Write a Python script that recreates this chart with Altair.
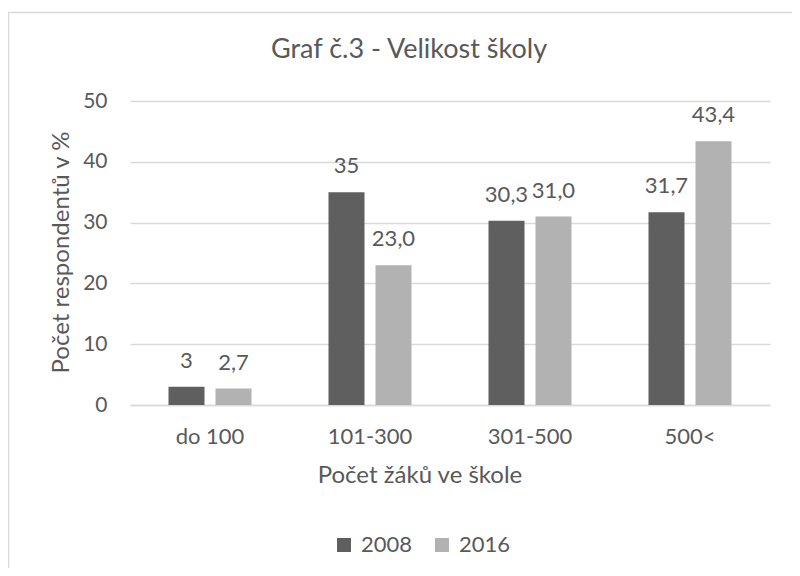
import altair as alt
import pandas as pd

categories = ["do 100", "101-300", "301-500", "500<"]
years = ["2008", "2016"]
values_2008 = [3, 35, 30.3, 31.7]
values_2016 = [2.7, 23.0, 31.0, 43.4]
labels_2008 = ["3", "35", "30,3", "31,7"]
labels_2016 = ["2,7", "23,0", "31,0", "43,4"]
colors = ["#5f5f5f", "#b2b2b2"]
y_ticks = [0, 10, 20, 30, 40, 50]

rows = []
for c, v, l in zip(categories, values_2008, labels_2008):
    rows.append({"kat": c, "rok": "2008", "hodnota": v, "popis": l})
for c, v, l in zip(categories, values_2016, labels_2016):
    rows.append({"kat": c, "rok": "2016", "hodnota": v, "popis": l})
df = pd.DataFrame(rows)

FONT = "Lato"
TXT = "#595959"
GRID = "#d9d9d9"

x_enc = alt.X(
    "kat:N",
    sort=categories,
    scale=alt.Scale(paddingInner=0, paddingOuter=0),
    axis=alt.Axis(
        title="Počet žáků ve škole",
        labelAngle=0,
        ticks=False,
        tickSize=0,
        labelPadding=38,
        labelBaseline="alphabetic",
        labelFontSize=22,
        domainColor=GRID,
        domainWidth=1.5,
        grid=False,
        titleFontSize=24,
        titleX=289.5,
        titleY=77,
        titleAlign="center",
        titleBaseline="alphabetic",
    ),
)
xoff = alt.XOffset("rok:N", sort=years, scale=alt.Scale(paddingInner=0.234, paddingOuter=0.819))
y_enc = alt.Y(
    "hodnota:Q",
    scale=alt.Scale(domain=[0, 50], nice=False),
    axis=alt.Axis(
        title="Počet respondentů v %",
        values=y_ticks,
        ticks=False,
        tickSize=0,
        domain=False,
        labelPadding=23,
        labelFontSize=21,
        gridColor=GRID,
        gridWidth=1.5,
        titleFontSize=24,
        titleAngle=270,
        titleX=-62,
        titleY=151,
        titleAlign="center",
        titleBaseline="alphabetic",
    ),
)

border = alt.Chart(alt.Data(values=[{"a": 1}])).mark_rect(
    fillOpacity=0, stroke=GRID, strokeWidth=1.5
).encode(
    x=alt.value(-121.5), x2=alt.value(720), y=alt.value(-88.5), y2=alt.value(520)
)

bars = alt.Chart(df).mark_bar().encode(
    x=x_enc,
    xOffset=xoff,
    y=y_enc,
    color=alt.Color(
        "rok:N",
        scale=alt.Scale(domain=years, range=colors),
        legend=alt.Legend(
            orient="none",
            legendX=203,
            legendY=433,
            direction="horizontal",
            title=None,
            symbolType="square",
            symbolSize=196,
            symbolStrokeWidth=0,
            labelFontSize=22,
            labelFont=FONT,
            labelColor=TXT,
            labelOffset=6,
            columnPadding=18,
            padding=0,
        ),
    ),
)

texts = alt.Chart(df).mark_text(
    dy=-19, baseline="alphabetic", fontSize=22, font=FONT, color=TXT
).encode(x=x_enc, xOffset=xoff, y=y_enc, text="popis:N")

chart = alt.layer(border, bars, texts).properties(
    width=640,
    height=304,
    padding={"left": 122, "top": 93, "right": 22, "bottom": 163},
    autosize=alt.AutoSizeParams(type="none"),
    title=alt.TitleParams(
        text="Graf č.3 - Velikost školy",
        font=FONT,
        fontSize=27,
        fontWeight="normal",
        color=TXT,
        anchor="middle",
        frame="group",
        baseline="alphabetic",
        dx=-41,
        dy=77,
    ),
).configure_view(stroke=None).configure_axis(
    labelFont=FONT, labelColor=TXT, titleFont=FONT, titleColor=TXT, titleFontWeight="normal"
)

chart.save("out.html", embed_options={"renderer": "svg", "actions": False})
